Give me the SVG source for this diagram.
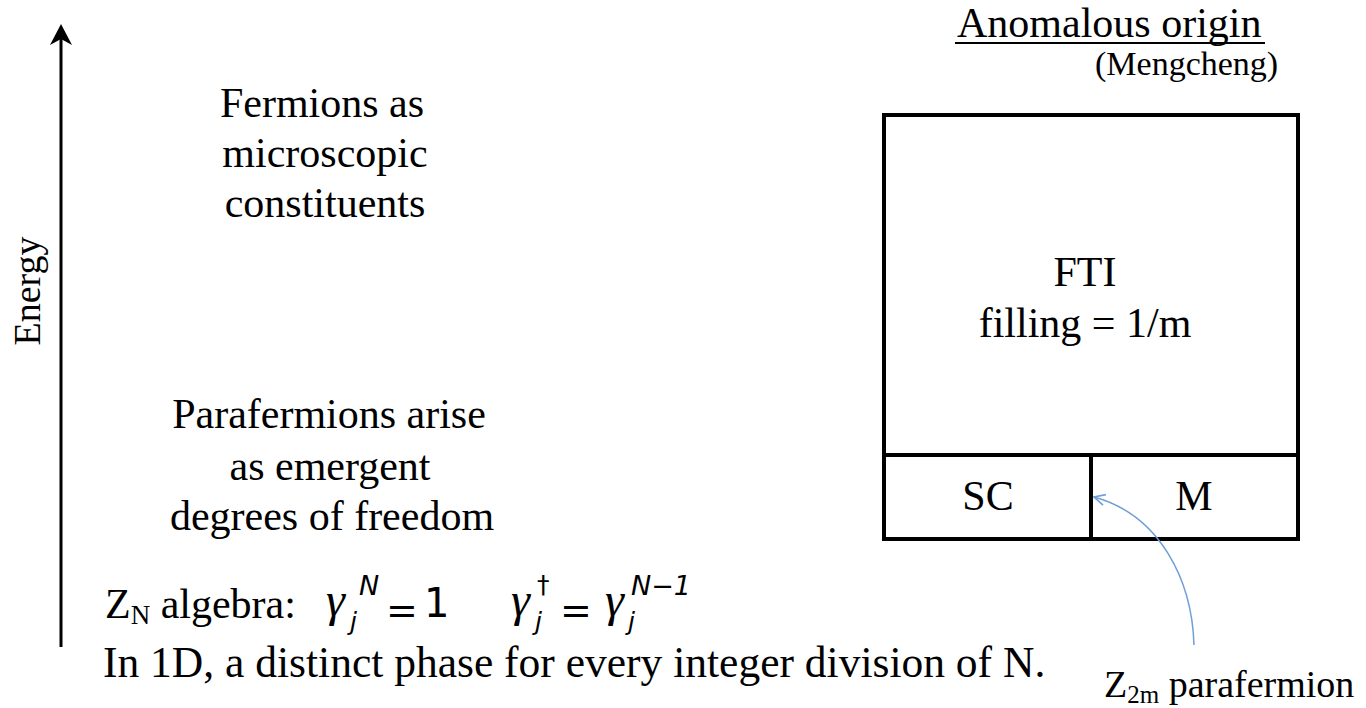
<svg xmlns="http://www.w3.org/2000/svg" width="1366" height="708" viewBox="0 0 1366 708">
<style>
.t{font-family:"Liberation Serif","Times New Roman",serif;fill:#000}
.m{font-family:"DejaVu Sans",sans-serif;fill:#000}
.g{font-family:"Liberation Serif",serif;font-style:italic;fill:#000}
.box{fill:none;stroke:#000;stroke-width:4}
</style>
<defs>
<marker id="open" viewBox="0 0 12 12" refX="11" refY="6" markerWidth="13" markerHeight="13" markerUnits="userSpaceOnUse" orient="auto">
<path d="M1,1 L11,6 L1,11" fill="none" stroke="#6f9fd6" stroke-width="1.5"/>
</marker>
</defs>
<rect width="1366" height="708" fill="#fff"/>

<g id="energy-axis">
<line x1="61" y1="647" x2="61" y2="32" stroke="#000" stroke-width="3"/>
<polygon points="61,24 72,45 61,39 50,45" fill="#000"/>
<text class="t" font-size="38" text-anchor="middle" transform="translate(40,291) rotate(-90)">Energy</text>
</g>

<g id="fermions-label">
<text class="t" font-size="42" text-anchor="middle"><tspan x="322" y="117">Fermions as</tspan><tspan x="325" y="167">microscopic</tspan><tspan x="325" y="217">constituents</tspan></text>
</g>

<g id="parafermions-label">
<text class="t" font-size="42" text-anchor="middle"><tspan x="329" y="428">Parafermions arise</tspan><tspan x="330" y="480">as emergent</tspan><tspan x="332" y="530">degrees of freedom</tspan></text>
</g>

<g id="zn-algebra">
<text class="t" font-size="42" x="105" y="618">Z<tspan font-size="27" dy="6">N</tspan><tspan dy="-6"> algebra:</tspan></text>
<text class="g" font-size="48" x="326" y="616">γ</text>
<text class="m" font-size="27" font-style="italic" x="359" y="595">N</text>
<text class="m" font-size="25" font-style="italic" x="350" y="630">j</text>
<text class="m" font-size="38" x="386" y="623">=</text>
<text class="m" font-size="40" x="424" y="617">1</text>
<text class="g" font-size="48" x="511" y="616">γ</text>
<text class="m" font-size="25" x="537" y="593">†</text>
<text class="m" font-size="25" font-style="italic" x="535" y="630">j</text>
<text class="m" font-size="38" x="560" y="623">=</text>
<text class="g" font-size="48" x="605" y="616">γ</text>
<text class="m" font-size="27" font-style="italic" x="631" y="595">N−1</text>
<text class="m" font-size="25" font-style="italic" x="628" y="630">j</text>
</g>

<g id="bottom-note">
<text class="t" font-size="43.5" x="103" y="677">In 1D, a distinct phase for every integer division of N.</text>
</g>

<g id="anomalous-origin">
<text class="t" font-size="42" x="957" y="37">Anomalous origin</text>
<line x1="955" y1="43" x2="1265" y2="43" stroke="#000" stroke-width="2"/>
<text class="t" font-size="34" x="1095" y="75">(Mengcheng)</text>
</g>

<g id="fti">
<rect class="box" x="884" y="115" width="414" height="424"/>
<text class="t" font-size="42" text-anchor="middle"><tspan x="1085" y="286">FTI</tspan><tspan x="1085" y="337">filling = 1/m</tspan></text>
</g>

<g id="sc">
<line class="box" x1="884" y1="455" x2="1298" y2="455"/>
<text class="t" font-size="42" text-anchor="middle" x="988" y="510">SC</text>
</g>

<g id="m">
<line class="box" x1="1091" y1="455" x2="1091" y2="539"/>
<text class="t" font-size="42" text-anchor="middle" x="1194" y="510">M</text>
</g>

<g id="z2m-label">
<text class="t" font-size="38" x="1104" y="697">Z<tspan font-size="25" dy="6">2m</tspan><tspan dy="-6"> parafermion</tspan></text>
</g>

<g id="connectors">
<path d="M1194,645 C1192,580 1160,515 1094,497" fill="none" stroke="#6f9fd6" stroke-width="1.5" marker-end="url(#open)"/>
</g>
</svg>
